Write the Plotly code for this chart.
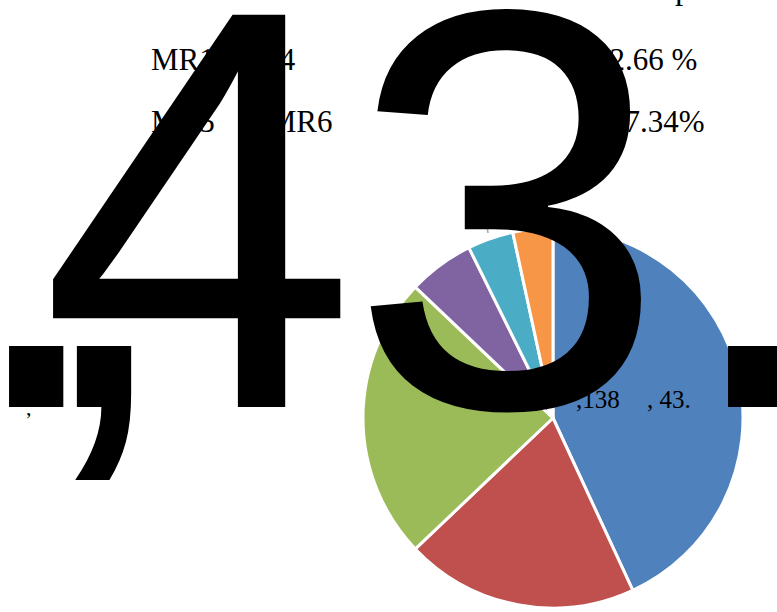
import plotly.graph_objects as go

W, H = 777, 612

# Pie data (share of each slice, clockwise from 12 o'clock)
slice_labels = ["MR1", "MR2", "MR3", "MR4", "MR5", "MR6"]
slice_values = [43.1, 19.8, 24.2, 5.6, 3.9, 3.4]
slice_colors = ["#4F81BD", "#C0504D", "#9BBB59", "#8064A2", "#4BACC6", "#F79646"]

# Text pieces
group_labels = ["MR1~MR4", "MR5\u2003~\u2009MR6"]
group_shares = ["52.66 %", "47.34%"]
big_glyphs = [".", ",", "4", "3", "."]
small_labels = [",138", ", 43."]


def px(x):
    return x / W


def py(y):
    return 1 - y / H


fig = go.Figure()

cx, cy, r = 553, 418, 190
fig.add_trace(go.Pie(
    labels=slice_labels,
    values=slice_values,
    sort=False,
    direction="clockwise",
    rotation=0,
    textinfo="none",
    hoverinfo="label+percent",
    marker=dict(colors=slice_colors, line=dict(color="white", width=3)),
    domain=dict(x=[px(cx - r), px(cx + r)], y=[py(cy + r), py(cy - r)]),
    showlegend=False,
))

serif = "Liberation Serif"
sans = "Liberation Sans"

ann = []
# serif rows (drawn first, under the big glyphs)
ann.append(dict(text=group_labels[0], x=px(149), y=py(60), xanchor="left", yanchor="middle",
                font=dict(family=serif, size=31, color="black")))
ann.append(dict(text=group_labels[1], x=px(149), y=py(122), xanchor="left", yanchor="middle",
                font=dict(family=serif, size=31, color="black")))
ann.append(dict(text=group_shares[0], x=px(699), y=py(60), xanchor="right", yanchor="middle",
                font=dict(family=serif, size=31, color="black")))
ann.append(dict(text=group_shares[1], x=px(707), y=py(122), xanchor="right", yanchor="middle",
                font=dict(family=serif, size=31, color="black")))
ann.append(dict(text="p", x=px(673), y=py(-12), xanchor="left", yanchor="middle",
                font=dict(family=serif, size=33, color="black")))
ann.append(dict(text=",", x=px(29), y=py(407), xanchor="center", yanchor="middle",
                font=dict(family=serif, size=22, color="black")))

# big glyphs
big_size = 570
base = 407
big_center_y = base - 0.3465 * big_size
big_x = [36, 103, 198, 507, 755]
for g, gx in zip(big_glyphs, big_x):
    ann.append(dict(text=g, x=px(gx), y=py(big_center_y), xanchor="center", yanchor="middle",
                    font=dict(family=sans, size=big_size, color="black")))

# small labels on the pie
ann.append(dict(text=small_labels[0], x=px(574), y=py(399), xanchor="left", yanchor="middle",
                font=dict(family=serif, size=25, color="black")))
ann.append(dict(text=small_labels[1], x=px(645), y=py(399), xanchor="left", yanchor="middle",
                font=dict(family=serif, size=25, color="black")))

for a in ann:
    a.update(xref="paper", yref="paper", showarrow=False)

shapes = [
    dict(type="line", x0=px(469), y0=py(198), x1=px(483), y1=py(198)),
    dict(type="line", x0=px(483), y0=py(198), x1=px(488), y1=py(233)),
    dict(type="line", x0=px(532), y0=py(195), x1=px(532), y1=py(226)),
]
for s in shapes:
    s.update(xref="paper", yref="paper", line=dict(color="#A6A6A6", width=1.5))

fig.update_layout(
    width=W, height=H,
    margin=dict(l=0, r=0, t=0, b=0),
    paper_bgcolor="white",
    plot_bgcolor="white",
    annotations=ann,
    shapes=shapes,
)

fig.write_html(
    "out.html",
    config={"displayModeBar": False},
    post_script="document.body.style.margin='0px';document.body.style.overflow='hidden';",
)
